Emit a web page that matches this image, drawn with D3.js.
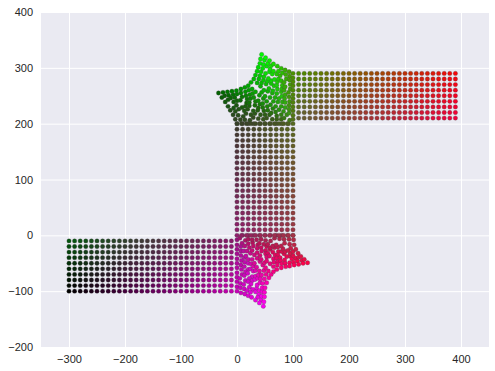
<!DOCTYPE html>
<html>
<head>
<meta charset="utf-8">
<script src="https://cdn.jsdelivr.net/npm/d3@7"></script>
<style>
  body { margin: 0; background: #fff; }
  text { font-family: "Liberation Sans", Arial, sans-serif; }
</style>
</head>
<body>
<script>
// Tick labels
var xTicks = [-300, -200, -100, 0, 100, 200, 300, 400];
var yTicks = [-200, -100, 0, 100, 200, 300, 400];

// Straight parts of the strip
var bottomBandX = [-300, -290, -280, -270, -260, -250, -240, -230, -220, -210, -200, -190, -180, -170, -160, -150, -140, -130, -120, -110, -100, -90, -80, -70, -60, -50, -40, -30, -20, -10];
var bottomBandY = [-100, -90, -80, -70, -60, -50, -40, -30, -20, -10];
var middleBandX = [0, 10, 20, 30, 40, 50, 60, 70, 80, 90, 100];
var middleBandY = [0, 10, 20, 30, 40, 50, 60, 70, 80, 90, 100, 110, 120, 130, 140, 150, 160, 170, 180, 190, 200];
var topBandX = [110, 120, 130, 140, 150, 160, 170, 180, 190, 200, 210, 220, 230, 240, 250, 260, 270, 280, 290, 300, 310, 320, 330, 340, 350, 360, 370, 380, 390];
var topBandY = [210, 220, 230, 240, 250, 260, 270, 280, 290];

// Warped bottom corner: dots along nested arcs, innermost arc first (estimated)
var lowerCornerX = [
  [0, 5, 8],
  [0, 7, 9, 15, 20, 17],
  [0, 7, 12, 14, 20, 28, 27, 25],
  [0, 7, 13, 16, 18, 22, 29, 37, 40, 35, 33],
  [0, 8, 14, 20, 20, 24, 27, 36, 43, 53, 48, 43, 42],
  [0, 7, 13, 20, 24, 25, 27, 31, 36, 44, 51, 59, 60, 55, 51, 50],
  [0, 8, 15, 19, 27, 29, 29, 31, 36, 41, 51, 55, 64, 74, 67, 64, 60, 58],
  [0, 9, 13, 22, 27, 32, 33, 33, 35, 41, 43, 53, 58, 68, 73, 84, 80, 73, 70, 67, 67],
  [0, 5, 15, 20, 25, 35, 36, 37, 38, 40, 46, 49, 53, 65, 71, 77, 89, 95, 86, 82, 79, 76, 75],
  [0, 6, 12, 22, 28, 33, 39, 40, 41, 42, 44, 48, 51, 59, 66, 73, 78, 85, 98, 105, 100, 95, 91, 85, 84, 83],
  [0, 6, 13, 18, 24, 37, 43, 44, 45, 45, 46, 49, 52, 56, 65, 72, 80, 86, 94, 101, 108, 116, 110, 100, 96, 94, 93, 92],
  [0, 7, 14, 20, 26, 33, 40, 47, 48, 49, 49, 50, 53, 57, 61, 65, 71, 79, 87, 94, 102, 110, 118, 126, 120, 114, 109, 105, 102, 101, 100]
];
var lowerCornerY = [
  [-8, -5, 0],
  [-17, -20, -14, -9, -7, 0],
  [-25, -28, -28, -19, -15, -13, -8, 0],
  [-33, -36, -40, -37, -28, -22, -19, -17, -14, -8, 0],
  [-42, -45, -48, -50, -43, -32, -27, -23, -22, -20, -16, -7, 0],
  [-50, -53, -56, -61, -60, -51, -43, -35, -31, -28, -27, -25, -22, -16, -9, 0],
  [-58, -61, -65, -68, -74, -64, -55, -50, -41, -36, -33, -32, -30, -29, -22, -19, -10, 0],
  [-67, -70, -72, -77, -81, -79, -73, -63, -57, -47, -43, -39, -37, -35, -35, -33, -29, -21, -17, -5, 0],
  [-75, -77, -81, -83, -87, -95, -89, -77, -71, -64, -53, -49, -46, -42, -41, -40, -38, -37, -29, -24, -19, -6, 0],
  [-83, -86, -88, -93, -97, -101, -106, -99, -85, -78, -71, -63, -58, -51, -48, -47, -46, -44, -42, -41, -36, -32, -27, -14, -7, 0],
  [-92, -94, -96, -99, -102, -111, -116, -109, -101, -94, -86, -78, -70, -64, -56, -53, -51, -50, -49, -48, -46, -45, -39, -29, -23, -16, -7, 0],
  [-100, -103, -105, -108, -111, -116, -121, -127, -119, -110, -102, -94, -85, -76, -70, -65, -61, -58, -56, -55, -53, -52, -50, -49, -43, -38, -32, -25, -17, -8, 0]
];

// Warped top corner, same layout (estimated)
var upperCornerX = [
  [92, 94, 100],
  [83, 79, 84, 89, 93, 100],
  [75, 71, 71, 79, 83, 86, 93, 100],
  [67, 63, 58, 61, 69, 75, 79, 81, 86, 93, 100],
  [58, 53, 50, 48, 55, 64, 69, 73, 75, 80, 85, 94, 100],
  [50, 47, 42, 37, 38, 46, 54, 60, 65, 68, 71, 72, 79, 86, 93, 100],
  [42, 38, 32, 29, 22, 32, 41, 46, 53, 59, 63, 64, 66, 71, 80, 84, 92, 100],
  [33, 29, 25, 19, 15, 17, 22, 33, 38, 47, 50, 55, 57, 61, 61, 67, 72, 81, 86, 95, 100],
  [25, 23, 16, 13, 9, 0, 6, 18, 24, 30, 40, 44, 48, 52, 54, 56, 58, 63, 74, 79, 84, 95, 100],
  [17, 14, 11, 3, -1, -6, -11, -4, 9, 16, 23, 28, 33, 42, 44, 47, 48, 51, 53, 59, 65, 71, 77, 88, 94, 100],
  [8, 6, 2, -3, -6, -16, -22, -15, -7, 0, 7, 15, 21, 27, 36, 39, 41, 43, 46, 47, 49, 55, 61, 74, 81, 87, 94, 100],
  [0, -3, -7, -12, -16, -21, -27, -33, -25, -17, -9, -1, 7, 14, 20, 25, 30, 33, 36, 38, 41, 42, 44, 51, 58, 65, 72, 79, 86, 93, 100]
];
var upperCornerY = [
  [200, 206, 208],
  [200, 208, 210, 216, 219, 215],
  [200, 208, 214, 216, 222, 229, 226, 223],
  [200, 208, 216, 219, 221, 225, 231, 239, 238, 233, 230],
  [200, 210, 216, 223, 224, 227, 231, 239, 245, 249, 245, 240, 238],
  [200, 208, 216, 224, 228, 229, 231, 234, 240, 247, 254, 262, 257, 252, 248, 245],
  [200, 209, 218, 223, 232, 233, 235, 236, 240, 247, 255, 259, 268, 269, 262, 260, 256, 252],
  [200, 211, 216, 226, 231, 237, 238, 240, 241, 245, 249, 258, 263, 272, 277, 279, 275, 269, 266, 262, 260],
  [200, 206, 218, 223, 229, 241, 242, 244, 245, 247, 251, 256, 260, 271, 276, 281, 293, 289, 280, 277, 274, 270, 268],
  [200, 207, 213, 226, 233, 239, 246, 247, 248, 250, 252, 254, 257, 267, 273, 278, 284, 290, 303, 298, 294, 289, 286, 280, 278, 275],
  [200, 207, 215, 222, 228, 243, 250, 251, 252, 253, 255, 257, 260, 262, 273, 280, 286, 293, 299, 306, 314, 308, 304, 294, 291, 288, 285, 282],
  [200, 208, 216, 224, 231, 239, 247, 255, 256, 257, 258, 259, 262, 265, 268, 274, 280, 287, 294, 301, 308, 316, 324, 318, 313, 307, 303, 299, 296, 293, 290]
];

// Define SVG area dimensions
var svgWidth = 495;
var svgHeight = 371;
var chartMargin = { top: 12, right: 6, bottom: 24, left: 41 };
var chartWidth = svgWidth - chartMargin.left - chartMargin.right;
var chartHeight = svgHeight - chartMargin.top - chartMargin.bottom;

var svg = d3.select("body").append("svg")
  .attr("width", svgWidth)
  .attr("height", svgHeight)
  .style("display", "block");

var chartGroup = svg.append("g")
  .attr("transform", `translate(${chartMargin.left}, ${chartMargin.top})`);

var xScale = d3.scaleLinear().domain([-350, 450]).range([0, chartWidth]);
var yScale = d3.scaleLinear().domain([-200, 400]).range([chartHeight, 0]);

chartGroup.append("rect")
  .attr("width", chartWidth)
  .attr("height", chartHeight)
  .attr("fill", "#eaeaf2");

// Axes: no tick marks, white grid lines across the plot
var bottomAxis = d3.axisBottom(xScale).tickValues(xTicks).tickSize(-chartHeight).tickPadding(8)
  .tickFormat(d => String(d).replace("-", "\u2212"));
var leftAxis = d3.axisLeft(yScale).tickValues(yTicks).tickSize(-chartWidth).tickPadding(8)
  .tickFormat(d => String(d).replace("-", "\u2212"));

[chartGroup.append("g").attr("transform", `translate(0, ${chartHeight})`).call(bottomAxis),
 chartGroup.append("g").call(leftAxis)].forEach(function(axis) {
  axis.select(".domain").remove();
  axis.selectAll("line").attr("stroke", "#fff").attr("stroke-width", 1);
  axis.selectAll("text").attr("fill", "#262626").style("font-size", "11px");
});

// Colour helpers: each block blends the colours seen at its corners
function blend(c00, c10, c01, c11, u, v) {
  return d3.interpolateRgb(d3.interpolateRgb(c00, c10)(u), d3.interpolateRgb(c01, c11)(u))(v);
}

function bandPoints(xs, ys, c00, c10, c01, c11) {
  var points = [];
  ys.forEach(function(y, j) {
    xs.forEach(function(x, i) {
      points.push({
        x: x,
        y: y,
        color: blend(c00, c10, c01, c11, i / (xs.length - 1), j / (ys.length - 1))
      });
    });
  });
  return points;
}

// Corner colours run along the outer arc (edge, tip, middle, tip, edge) and fade to a centre colour
function cornerPoints(rowsX, rowsY, centre, outerColors) {
  var outer = d3.scaleLinear().domain([0, 0.5, 1, 1.5, 2]).range(outerColors);
  var points = [];
  rowsX.forEach(function(row, j) {
    row.forEach(function(x, i) {
      var m = Math.pow((j + 1) / rowsX.length, 0.6);
      var p = 2 * i / (row.length - 1);
      points.push({ x: x, y: rowsY[j][i], color: d3.interpolateRgb(centre, outer(p))(m) });
    });
  });
  return points;
}

var points = [].concat(
  bandPoints(bottomBandX, bottomBandY, "rgb(0,0,0)", "rgb(195,0,175)", "rgb(5,85,15)", "rgb(135,25,105)"),
  bandPoints(middleBandX, middleBandY, "rgb(145,30,110)", "rgb(160,50,70)", "rgb(60,60,45)", "rgb(85,105,30)"),
  bandPoints(topBandX, topBandY, "rgb(100,95,50)", "rgb(240,0,60)", "rgb(75,140,0)", "rgb(245,5,10)"),
  cornerPoints(lowerCornerX, lowerCornerY, "rgb(135,25,105)",
    ["rgb(200,0,185)", "rgb(255,0,245)", "rgb(245,0,130)", "rgb(255,0,70)", "rgb(165,50,70)"]),
  cornerPoints(upperCornerX, upperCornerY, "rgb(85,105,30)",
    ["rgb(55,65,40)", "rgb(0,100,0)", "rgb(0,180,0)", "rgb(0,255,0)", "rgb(75,145,0)"])
);

chartGroup.selectAll(".dot")
  .data(points)
  .enter()
  .append("circle")
  .attr("class", "dot")
  .attr("r", 2.2)
  .attr("cx", d => xScale(d.x))
  .attr("cy", d => yScale(d.y))
  .attr("fill", d => d.color)
  .attr("stroke", "#444")
  .attr("stroke-opacity", 0.45)
  .attr("stroke-width", 0.6);
</script>
</body>
</html>
